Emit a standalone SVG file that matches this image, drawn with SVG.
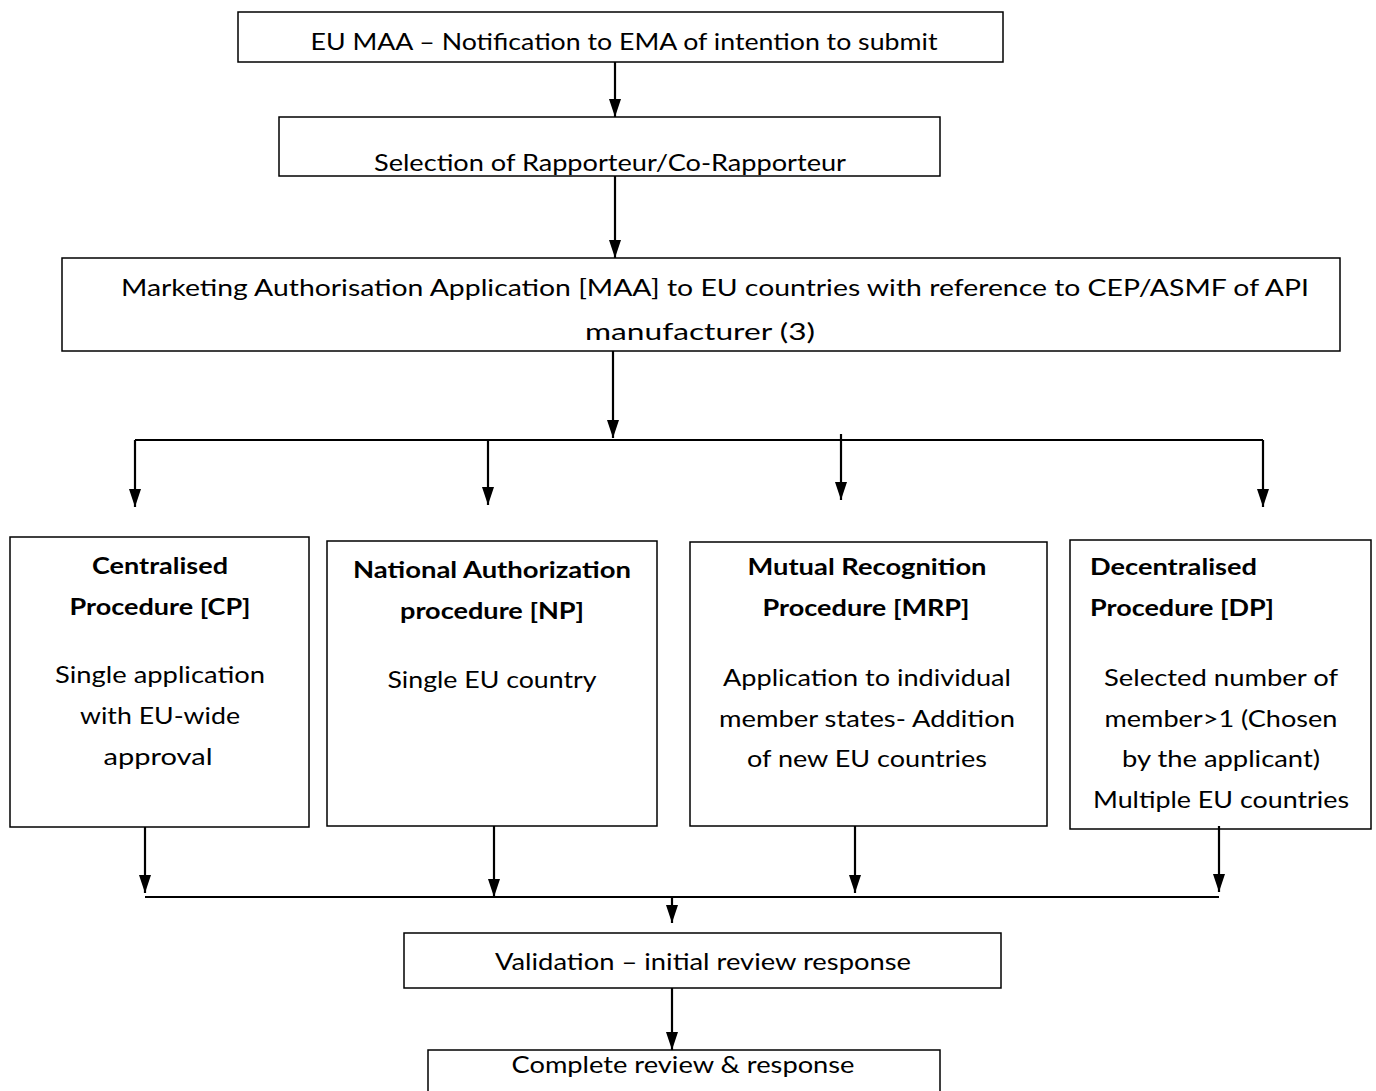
<svg xmlns="http://www.w3.org/2000/svg" width="1376" height="1091" viewBox="0 0 1376 1091">
<style>
.box{fill:none;stroke:#000;stroke-width:1.5}
.t{font-family:Lato,"Open Sans","Liberation Sans",sans-serif;font-size:23px;fill:#000;text-anchor:middle}
.b{font-weight:bold}
.l{text-anchor:start}
.c{fill:none;stroke:#000;stroke-width:2.2}
</style>
<defs>
<marker id="ah" markerUnits="userSpaceOnUse" viewBox="0 0 18 12" refX="18" refY="6" markerWidth="18" markerHeight="12" orient="auto"><path d="M0,0 L18,6 L0,12 z" fill="#000"/></marker>
<clipPath id="c2"><rect x="279" y="117" width="661" height="59"/></clipPath>
<clipPath id="c3"><rect x="62" y="258" width="1278" height="93"/></clipPath>
</defs>
<rect width="1376" height="1091" fill="#fff"/>
<g id="connectors">
<line class="c" x1="615" y1="62" x2="615" y2="117" marker-end="url(#ah)"/>
<line class="c" x1="615" y1="176" x2="615" y2="258" marker-end="url(#ah)"/>
<line class="c" x1="613" y1="351" x2="613" y2="438" marker-end="url(#ah)"/>
<line class="c" x1="135" y1="440" x2="1263" y2="440"/>
<line class="c" x1="135" y1="440" x2="135" y2="507" marker-end="url(#ah)"/>
<line class="c" x1="488" y1="440" x2="488" y2="505" marker-end="url(#ah)"/>
<line class="c" x1="841" y1="434" x2="841" y2="500" marker-end="url(#ah)"/>
<line class="c" x1="1263" y1="440" x2="1263" y2="507" marker-end="url(#ah)"/>
<line class="c" x1="145" y1="827" x2="145" y2="893" marker-end="url(#ah)"/>
<line class="c" x1="494" y1="826" x2="494" y2="897" marker-end="url(#ah)"/>
<line class="c" x1="855" y1="826" x2="855" y2="893" marker-end="url(#ah)"/>
<line class="c" x1="1219" y1="826" x2="1219" y2="892" marker-end="url(#ah)"/>
<line class="c" x1="145" y1="897" x2="1219" y2="897"/>
<line class="c" x1="672" y1="897" x2="672" y2="923" marker-end="url(#ah)"/>
<line class="c" x1="672" y1="988" x2="672" y2="1050" marker-end="url(#ah)"/>
</g>
<g id="n1">
<rect class="box" x="238" y="12" width="765" height="50"/>
<text class="t" x="624" y="50" textLength="627" lengthAdjust="spacingAndGlyphs">EU MAA – Notification to EMA of intention to submit</text>
</g>
<g id="n2">
<text class="t" x="610" y="171" textLength="472" lengthAdjust="spacingAndGlyphs" clip-path="url(#c2)">Selection of Rapporteur/Co-Rapporteur</text>
<rect class="box" x="279" y="117" width="661" height="59"/>
</g>
<g id="n3">
<text class="t" x="715" y="296" textLength="1188" lengthAdjust="spacingAndGlyphs">Marketing Authorisation Application [MAA] to EU countries with reference to CEP/ASMF of API</text>
<text class="t" x="700" y="340" textLength="230" lengthAdjust="spacingAndGlyphs" clip-path="url(#c3)">manufacturer (3)</text>
<rect class="box" x="62" y="258" width="1278" height="93"/>
</g>
<g id="cp">
<rect class="box" x="10" y="537" width="299" height="290"/>
<text class="t b" x="160" y="574" textLength="136" lengthAdjust="spacingAndGlyphs">Centralised</text>
<text class="t b" x="160" y="615" textLength="181" lengthAdjust="spacingAndGlyphs">Procedure [CP]</text>
<text class="t" x="160" y="683" textLength="210" lengthAdjust="spacingAndGlyphs">Single application</text>
<text class="t" x="160" y="724" textLength="160" lengthAdjust="spacingAndGlyphs">with EU-wide</text>
<text class="t" x="158" y="765" textLength="109" lengthAdjust="spacingAndGlyphs">approval</text>
</g>
<g id="np">
<rect class="box" x="327" y="541" width="330" height="285"/>
<text class="t b" x="492" y="578" textLength="278" lengthAdjust="spacingAndGlyphs">National Authorization</text>
<text class="t b" x="492" y="619" textLength="184" lengthAdjust="spacingAndGlyphs">procedure [NP]</text>
<text class="t" x="492" y="688" textLength="209" lengthAdjust="spacingAndGlyphs">Single EU country</text>
</g>
<g id="mrp">
<rect class="box" x="690" y="542" width="357" height="284"/>
<text class="t b" x="867" y="575" textLength="239" lengthAdjust="spacingAndGlyphs">Mutual Recognition</text>
<text class="t b" x="866" y="616" textLength="207" lengthAdjust="spacingAndGlyphs">Procedure [MRP]</text>
<text class="t" x="867" y="686" textLength="288" lengthAdjust="spacingAndGlyphs">Application to individual</text>
<text class="t" x="867" y="727" textLength="296" lengthAdjust="spacingAndGlyphs">member states- Addition</text>
<text class="t" x="867" y="767" textLength="240" lengthAdjust="spacingAndGlyphs">of new EU countries</text>
</g>
<g id="dp">
<rect class="box" x="1070" y="540" width="301" height="289"/>
<text class="t b l" x="1090" y="575" textLength="167" lengthAdjust="spacingAndGlyphs">Decentralised</text>
<text class="t b l" x="1090" y="616" textLength="184" lengthAdjust="spacingAndGlyphs">Procedure [DP]</text>
<text class="t" x="1221" y="686" textLength="234" lengthAdjust="spacingAndGlyphs">Selected number of</text>
<text class="t" x="1221" y="727" textLength="233" lengthAdjust="spacingAndGlyphs">member&gt;1 (Chosen</text>
<text class="t" x="1221" y="767" textLength="198" lengthAdjust="spacingAndGlyphs">by the applicant)</text>
<text class="t" x="1221" y="808" textLength="256" lengthAdjust="spacingAndGlyphs">Multiple EU countries</text>
</g>
<g id="validation">
<rect class="box" x="404" y="933" width="597" height="55"/>
<text class="t" x="703" y="970" textLength="416" lengthAdjust="spacingAndGlyphs">Validation – initial review response</text>
</g>
<g id="complete">
<rect class="box" x="428" y="1050" width="512" height="50"/>
<text class="t" x="683" y="1073" textLength="343" lengthAdjust="spacingAndGlyphs">Complete review &amp; response</text>
</g>
</svg>
